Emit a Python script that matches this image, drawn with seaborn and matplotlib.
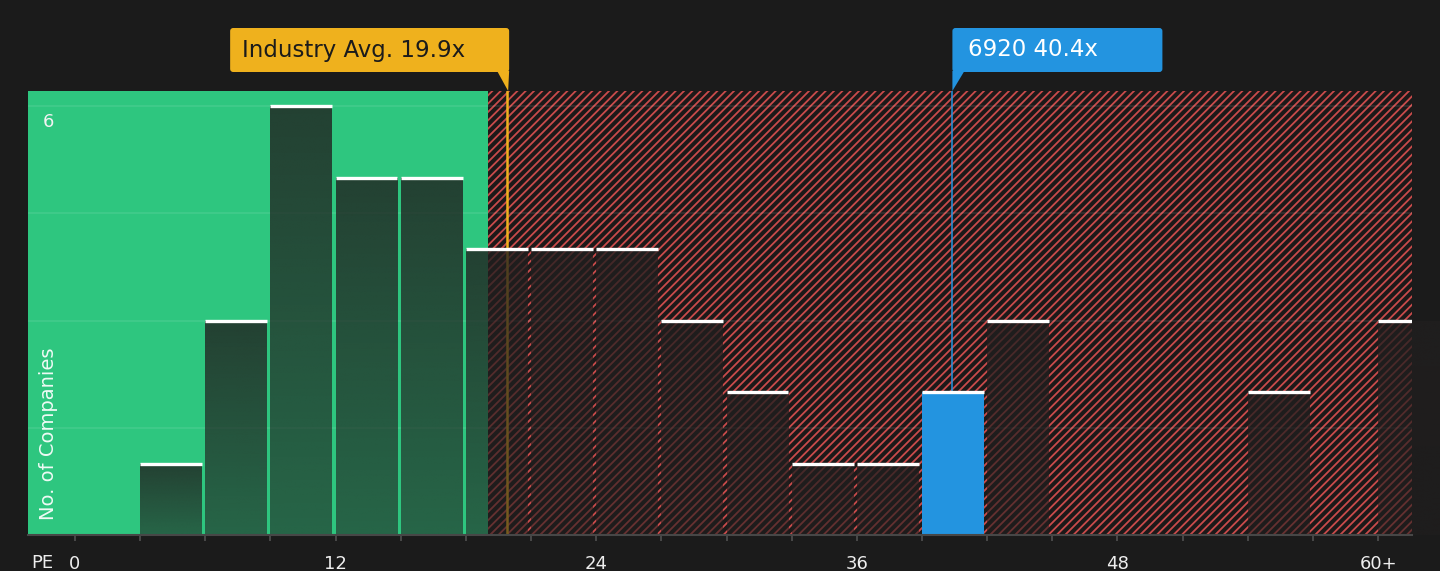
import numpy as np
import pandas as pd
import matplotlib
matplotlib.use("Agg")
import matplotlib.pyplot as plt
import seaborn as sns
from matplotlib.patches import FancyBboxPatch, Polygon
from matplotlib.transforms import IdentityTransform, blended_transform_factory
from matplotlib.colors import to_rgb

# ---------------- data ----------------
bin_starts = [0, 3, 6, 9, 12, 15, 18, 21, 24, 27, 30, 33, 36, 39, 42, 45, 48, 51, 54, 57, 60]
counts = [0, 1, 3, 6, 5, 5, 4, 4, 4, 3, 2, 1, 1, 2, 3, 0, 0, 0, 2, 0, 3]
bin_width = 3
tick_values = [0, 12, 24, 36, 48, 60]
tick_labels = ["0", "12", "24", "36", "48", "60+"]
grid_values = [1.5, 3, 4.5, 6]
industry_avg = 19.9
company_pe = 40.4
company_name = "6920"
fair_upper = 19.0
x_min, x_max = -2.16, 61.56
y_max = 6.21

# ---------------- style ----------------
BG = "#1b1b1b"
GREEN = "#2ec67f"
RED = "#c94b4b"
HATCH_BG = "#1c1919"
YELLOW = "#efb11d"
BLUE = "#2394e0"
BAR = "#211f1f"
BAR_FRAC = 0.95

sns.set_style("dark")
plt.rcParams["font.family"] = ["DejaVu Sans"]
plt.rcParams["hatch.linewidth"] = 1.3
plt.rcParams["hatch.color"] = RED

fig = plt.figure(figsize=(14.4, 5.71), dpi=100, facecolor=BG)
ax = fig.add_axes([28 / 1440, 36 / 571, 1384 / 1440, 444 / 571])
ax.set_facecolor(BG)

# background zones
ax.axvspan(x_min, fair_upper, color=GREEN, lw=0, zorder=1)
ax.axvspan(fair_upper, x_max, facecolor=HATCH_BG, edgecolor=RED, hatch="////", lw=0, zorder=1)

# reference lines
ax.axvline(industry_avg, color=YELLOW, lw=1.8, zorder=2.6)
ax.axvline(company_pe, color=BLUE, lw=1.1, zorder=2.6)

# bars (left-aligned at each bin start, small gap on the right)
df = pd.DataFrame({"pe": [s + bin_width * BAR_FRAC / 2 for s in bin_starts], "count": counts})
sns.barplot(data=df, x="pe", y="count", native_scale=True, width=BAR_FRAC,
            color=BAR, saturation=1, errorbar=None, ax=ax, zorder=3)
bars = list(ax.containers[0])

hl_idx = None
for i, s in enumerate(bin_starts):
    if s <= company_pe < s + bin_width:
        hl_idx = i

bar_rgb = to_rgb(BAR)
for i, patch in enumerate(bars):
    h = patch.get_height()
    x0 = patch.get_x()
    x1 = x0 + patch.get_width()
    if h <= 0:
        patch.set_visible(False)
        continue
    if i == hl_idx:
        patch.set_facecolor(BLUE)
        patch.set_alpha(1)
    else:
        grad = np.zeros((256, 1, 4))
        grad[..., :3] = bar_rgb
        grad[:, 0, 3] = np.linspace(0.8, 0.58, 256)
        im = ax.imshow(grad, extent=[x0, x1, 0, h], aspect="auto", origin="upper",
                       interpolation="bilinear", zorder=3)
        im.set_clip_path(patch)
        patch.set_facecolor("none")
    patch.set_edgecolor("none")
    ax.hlines(h, x0, x1, color="white", lw=2.4, zorder=5)

# axes
ax.set_xlim(x_min, x_max)
ax.set_ylim(0, y_max)
ax.set_yticks(grid_values)
ax.set_yticklabels([])
ax.tick_params(axis="y", length=0)
ax.set_axisbelow(False)
ax.grid(axis="y", color="white", alpha=0.1, lw=1.1)
ax.grid(axis="x", visible=False)
ax.set_xticks(range(0, 61, 3))
ax.set_xticklabels([tick_labels[tick_values.index(v)] if v in tick_values else ""
                    for v in range(0, 61, 3)])
ax.tick_params(axis="x", length=4.3, width=1.1, color="#555555", pad=10,
               labelsize=13, labelcolor="#eeeeee", bottom=True)
ax.set_xlabel("")
ax.set_ylabel("")
for side in ["top", "left", "right"]:
    ax.spines[side].set_visible(False)
ax.spines["bottom"].set_color("#474747")
ax.spines["bottom"].set_linewidth(1.5)
ax.spines["bottom"].set_zorder(6)

# texts inside axes
bt = blended_transform_factory(ax.transAxes, ax.transData)
ax.text(0.0145, 6 - 0.1, "6", transform=bt, ha="center", va="top",
        fontsize=13, color="#f2f2f2", zorder=7)
ax.text(0.0145, 0.034, "No. of Companies", transform=ax.transAxes, rotation=90,
        ha="center", va="bottom", fontsize=14, color="white", alpha=0.92, zorder=7)
ax.text(0.0101, -0.063, "PE", transform=ax.transAxes, ha="center", va="center",
        fontsize=13, color="#eeeeee")

# annotation boxes (pixel coordinates)
H = 571
ax_top = H - 91
box_bot = H - 72
box_h = 44
lx = ax.transData.transform((industry_avg, 0))[0]
bx = ax.transData.transform((company_pe, 0))[0]

yb_w = 279
fig.patches.append(FancyBboxPatch((lx + 2 - yb_w, box_bot), yb_w, box_h,
                                  boxstyle="round,pad=0,rounding_size=3",
                                  transform=IdentityTransform(), fc=YELLOW, ec="none",
                                  figure=fig))
fig.patches.append(Polygon([(lx - 10, box_bot + 1), (lx + 2, box_bot + 1), (lx + 1, ax_top)],
                           closed=True, transform=IdentityTransform(), fc=YELLOW, ec="none",
                           figure=fig))
fig.text((lx + 2 - yb_w + 12) / 1440, (box_bot + box_h / 2) / H,
         f"Industry Avg. {industry_avg}x", ha="left", va="center",
         fontsize=16.5, color="#1b1b1b")

bb_w = 210
fig.patches.append(FancyBboxPatch((bx, box_bot), bb_w, box_h,
                                  boxstyle="round,pad=0,rounding_size=3",
                                  transform=IdentityTransform(), fc=BLUE, ec="none",
                                  figure=fig))
fig.patches.append(Polygon([(bx, box_bot + 1), (bx + 12, box_bot + 1), (bx, ax_top)],
                           closed=True, transform=IdentityTransform(), fc=BLUE, ec="none",
                           figure=fig))
fig.text((bx + 16) / 1440, (box_bot + box_h / 2) / H,
         f"{company_name} {company_pe}x", ha="left", va="center",
         fontsize=16.5, color="white")

fig.savefig("out.png", dpi=100, facecolor=BG)
